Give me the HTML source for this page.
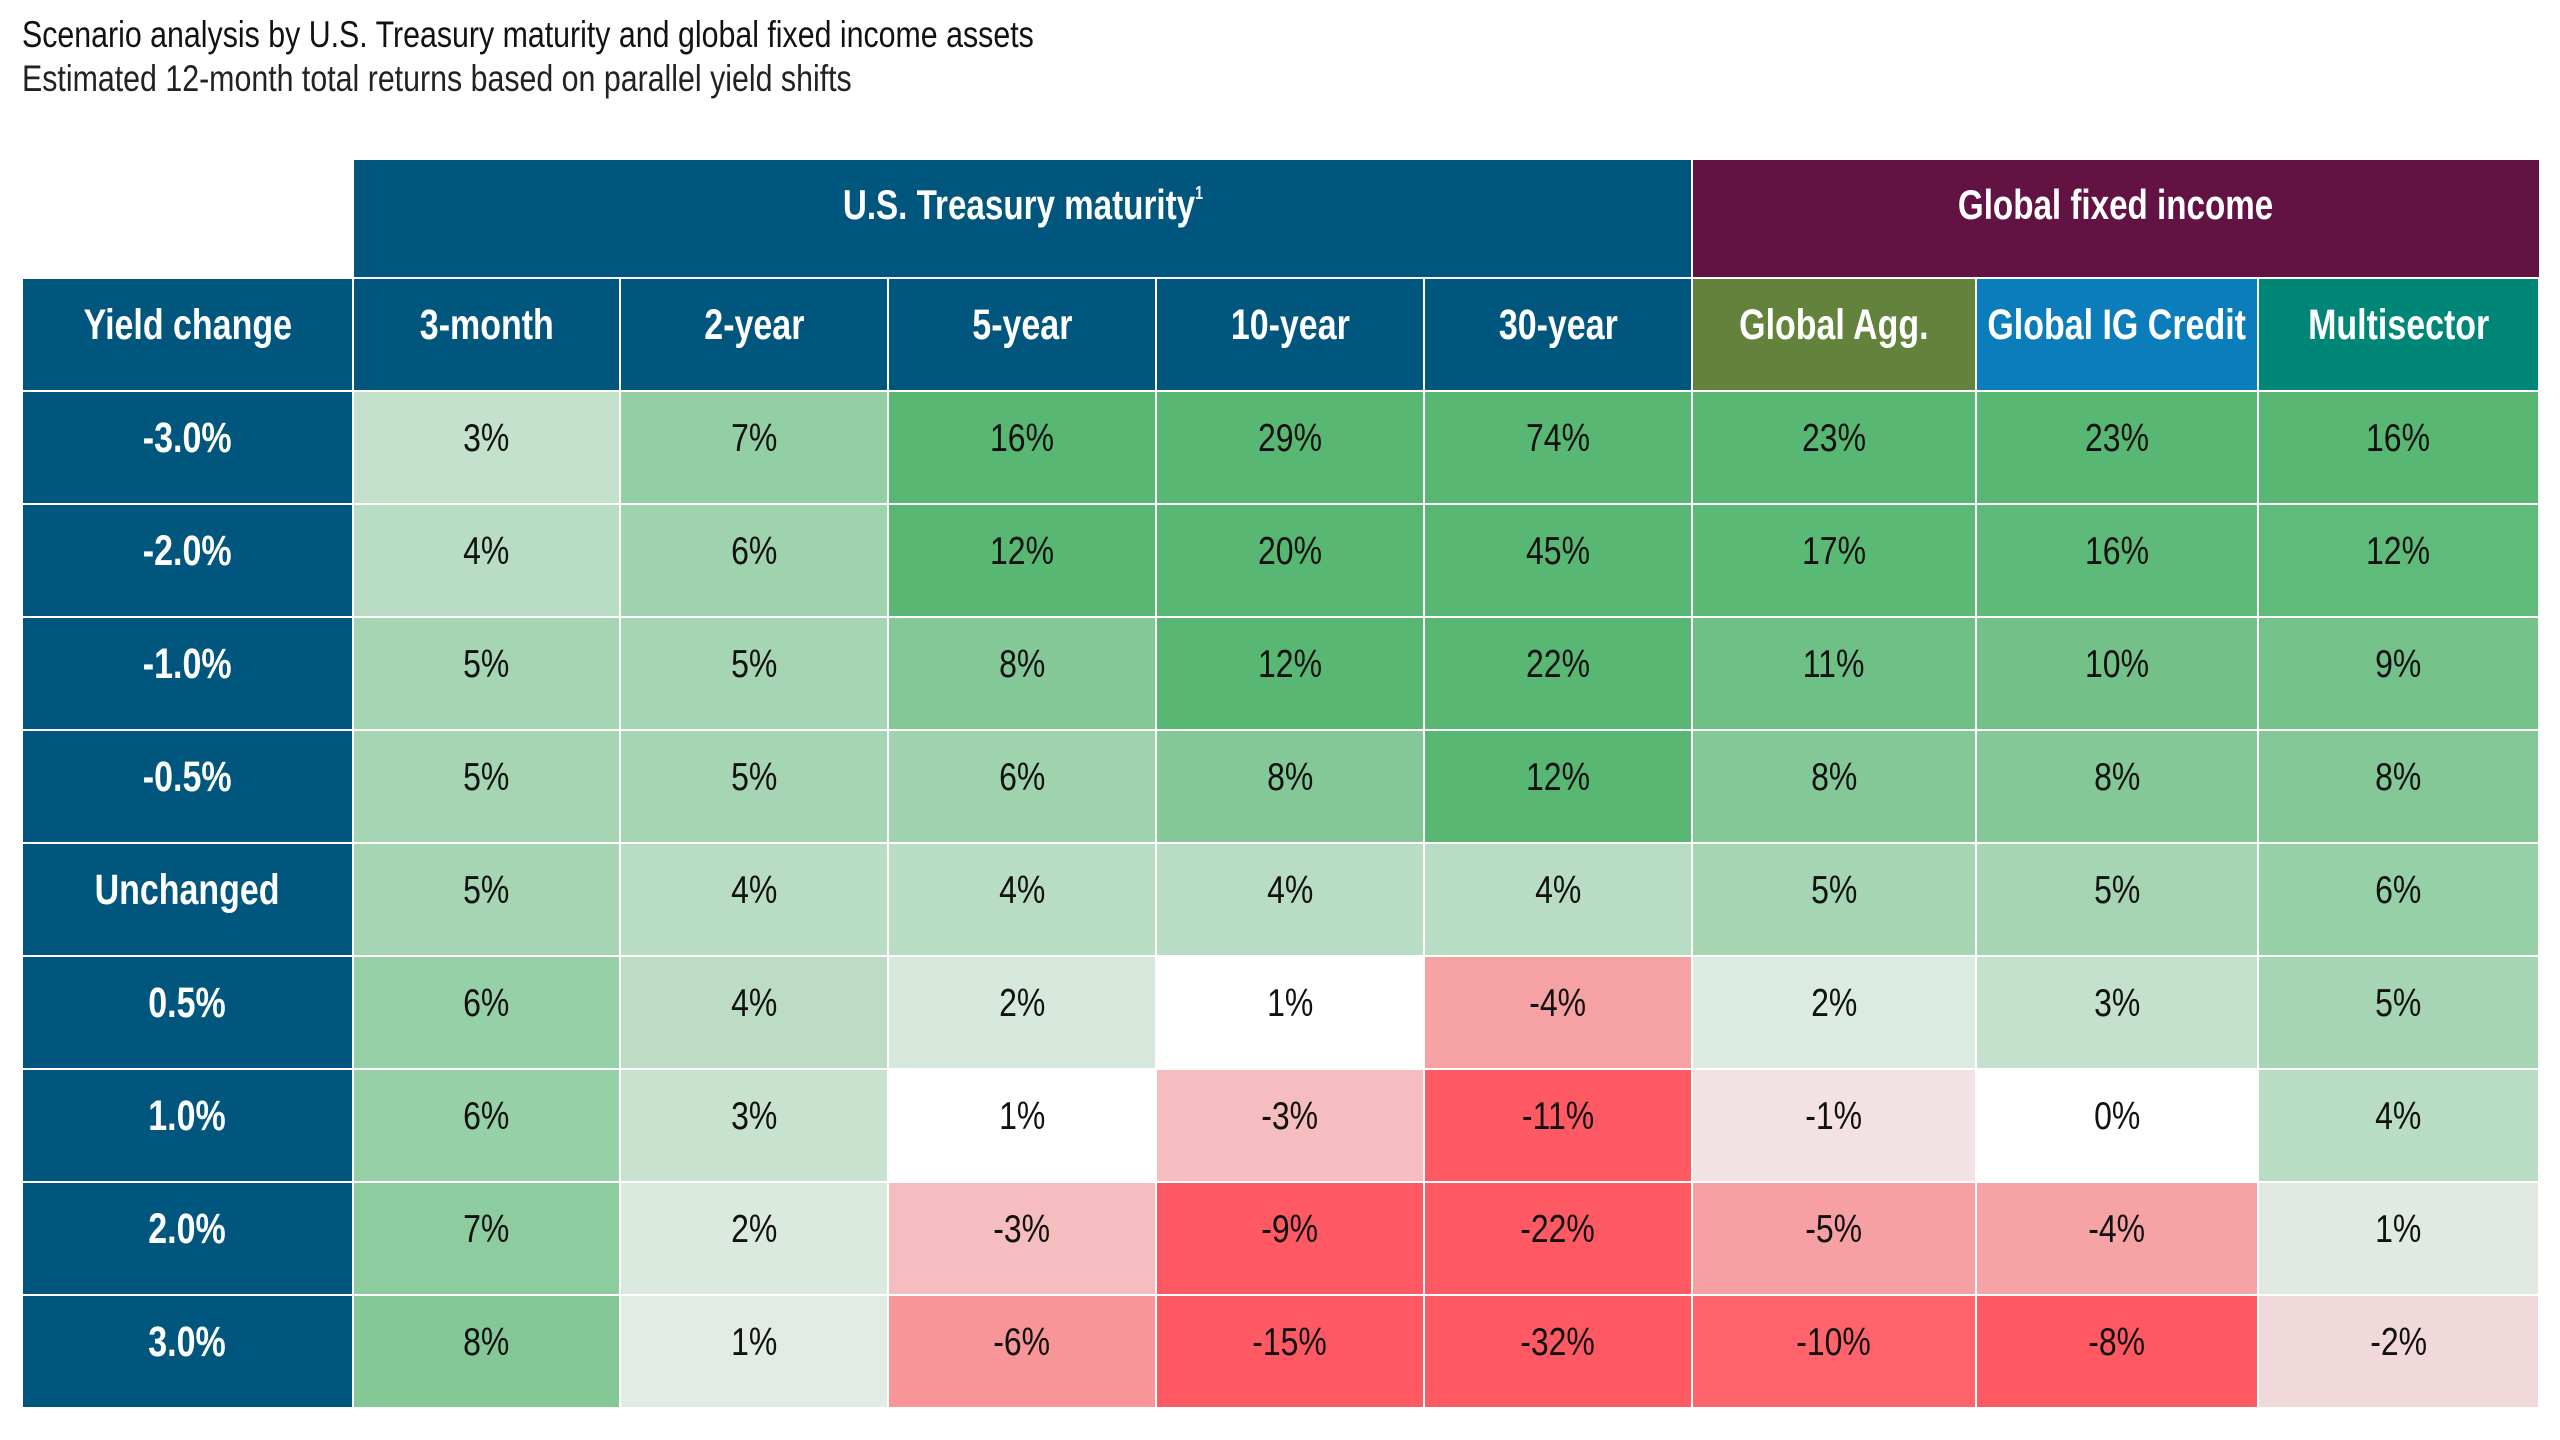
<!DOCTYPE html>
<html><head><meta charset="utf-8"><style>
body{margin:0;width:2560px;height:1440px;background:#fff;position:relative;overflow:hidden;font-family:"Liberation Sans Narrow","Liberation Sans",sans-serif;}
.t1,.t2{position:absolute;left:22px;white-space:nowrap;transform:scaleX(0.82);transform-origin:0 0;}
.t1{top:14px;font-size:37px;color:#111;}
.t2{top:58px;font-size:37px;color:#222;}
.h1{position:absolute;top:160px;height:117px;display:flex;align-items:center;justify-content:center;color:#fff;font-weight:bold;font-size:42px;}
.grid{position:absolute;left:23px;top:279px;display:grid;grid-template-columns:329px 265px 266px 266px 266px 266px 282px 280px 279px;grid-auto-rows:111px;gap:2px;background:#fff;}
.grid div{display:flex;align-items:center;justify-content:center;font-size:39px;color:#111;white-space:nowrap;}
span{display:inline-block;transform:scaleX(0.82);position:relative;top:-9px;white-space:nowrap;}
.h{background:#01567e;color:#fff!important;font-weight:bold;font-size:43px!important;}
.h span,.h1 span{transform:scaleX(0.79);}
.h1 span{top:-14px;}
sup{font-size:18px;vertical-align:top;position:relative;top:2px;}
</style></head><body>
<div class="t1">Scenario analysis by U.S. Treasury maturity and global fixed income assets</div>
<div class="t2">Estimated 12-month total returns based on parallel yield shifts</div>
<div class="h1" style="left:354px;width:1337px;background:#01567e;"><span>U.S. Treasury maturity<sup>1</sup></span></div>
<div class="h1" style="left:1693px;width:846px;background:#621343;"><span>Global fixed income</span></div>
<div class="grid">
<div class="h"><span>Yield change</span></div><div class="h"><span>3-month</span></div><div class="h"><span>2-year</span></div><div class="h"><span>5-year</span></div><div class="h"><span>10-year</span></div><div class="h"><span>30-year</span></div><div class="h" style="background:#63833c"><span>Global Agg.</span></div><div class="h" style="background:#0b7dbb"><span>Global IG Credit</span></div><div class="h" style="background:#008676"><span>Multisector</span></div>

<div class="h"><span>-3.0%</span></div><div style="background:#c4e1cd"><span>3%</span></div><div style="background:#92cfa3"><span>7%</span></div><div style="background:#58b873"><span>16%</span></div><div style="background:#58b873"><span>29%</span></div><div style="background:#58b873"><span>74%</span></div><div style="background:#58b873"><span>23%</span></div><div style="background:#58b873"><span>23%</span></div><div style="background:#58b873"><span>16%</span></div>

<div class="h"><span>-2.0%</span></div><div style="background:#b9dcc4"><span>4%</span></div><div style="background:#9fd3ae"><span>6%</span></div><div style="background:#58b873"><span>12%</span></div><div style="background:#58b873"><span>20%</span></div><div style="background:#58b873"><span>45%</span></div><div style="background:#5bb976"><span>17%</span></div><div style="background:#5eba78"><span>16%</span></div><div style="background:#5fbb79"><span>12%</span></div>

<div class="h"><span>-1.0%</span></div><div style="background:#a5d5b3"><span>5%</span></div><div style="background:#a5d5b3"><span>5%</span></div><div style="background:#85c898"><span>8%</span></div><div style="background:#58b873"><span>12%</span></div><div style="background:#58b873"><span>22%</span></div><div style="background:#6fc087"><span>11%</span></div><div style="background:#73c189"><span>10%</span></div><div style="background:#74c18a"><span>9%</span></div>

<div class="h"><span>-0.5%</span></div><div style="background:#a5d5b3"><span>5%</span></div><div style="background:#a5d5b3"><span>5%</span></div><div style="background:#9fd3ae"><span>6%</span></div><div style="background:#85c898"><span>8%</span></div><div style="background:#58b873"><span>12%</span></div><div style="background:#85c898"><span>8%</span></div><div style="background:#85c898"><span>8%</span></div><div style="background:#85c898"><span>8%</span></div>

<div class="h"><span>Unchanged</span></div><div style="background:#a5d5b3"><span>5%</span></div><div style="background:#b9dcc4"><span>4%</span></div><div style="background:#b9dcc4"><span>4%</span></div><div style="background:#b9dcc4"><span>4%</span></div><div style="background:#b9dcc4"><span>4%</span></div><div style="background:#a5d5b3"><span>5%</span></div><div style="background:#a5d5b3"><span>5%</span></div><div style="background:#96d0a6"><span>6%</span></div>

<div class="h"><span>0.5%</span></div><div style="background:#96d0a6"><span>6%</span></div><div style="background:#bcdcc6"><span>4%</span></div><div style="background:#d7e9dd"><span>2%</span></div><div style="background:#ffffff"><span>1%</span></div><div style="background:#f6a2a5"><span>-4%</span></div><div style="background:#dcebe1"><span>2%</span></div><div style="background:#c4e1cd"><span>3%</span></div><div style="background:#a5d5b3"><span>5%</span></div>

<div class="h"><span>1.0%</span></div><div style="background:#96d0a6"><span>6%</span></div><div style="background:#c8e2d0"><span>3%</span></div><div style="background:#ffffff"><span>1%</span></div><div style="background:#f5bdbf"><span>-3%</span></div><div style="background:#ff5a63"><span>-11%</span></div><div style="background:#f2e2e3"><span>-1%</span></div><div style="background:#ffffff"><span>0%</span></div><div style="background:#b9dcc4"><span>4%</span></div>

<div class="h"><span>2.0%</span></div><div style="background:#8dcc9f"><span>7%</span></div><div style="background:#dbeadf"><span>2%</span></div><div style="background:#f5bdbf"><span>-3%</span></div><div style="background:#ff5a63"><span>-9%</span></div><div style="background:#ff5a63"><span>-22%</span></div><div style="background:#f6a0a4"><span>-5%</span></div><div style="background:#f6a3a6"><span>-4%</span></div><div style="background:#e0e9e2"><span>1%</span></div>

<div class="h"><span>3.0%</span></div><div style="background:#85c898"><span>8%</span></div><div style="background:#e3ebe5"><span>1%</span></div><div style="background:#f79598"><span>-6%</span></div><div style="background:#ff5a63"><span>-15%</span></div><div style="background:#ff5a63"><span>-32%</span></div><div style="background:#ff636b"><span>-10%</span></div><div style="background:#ff5a63"><span>-8%</span></div><div style="background:#f1d8da"><span>-2%</span></div>
</div>
</body></html>
